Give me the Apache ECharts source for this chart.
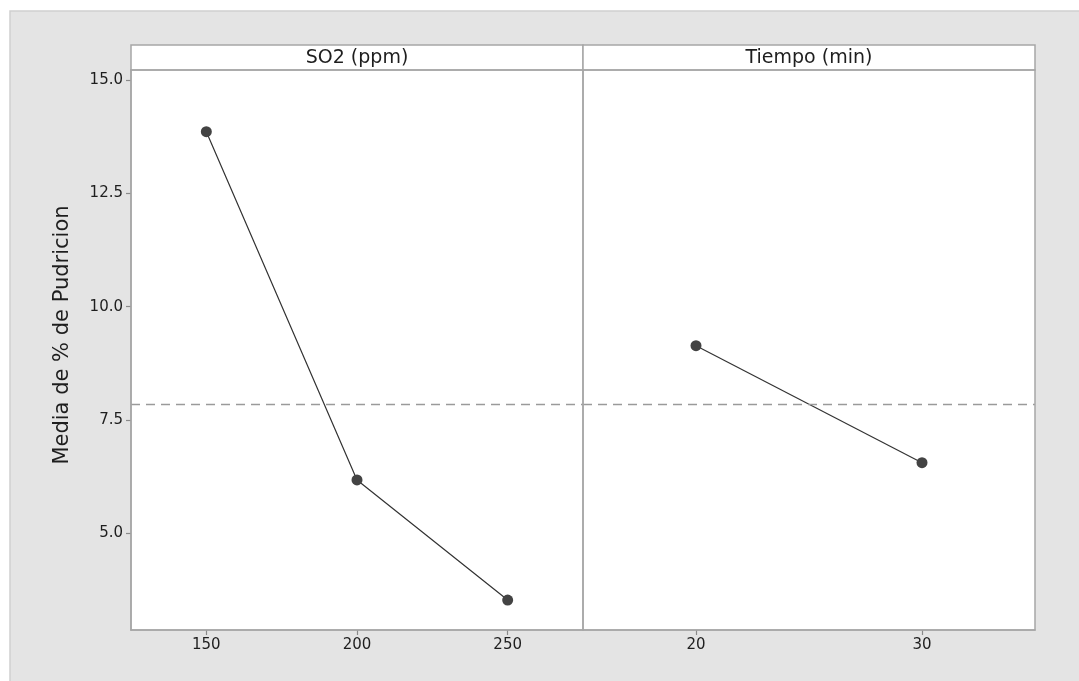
<!DOCTYPE html>
<html>
<head>
<meta charset="utf-8">
<script src="https://cdn.jsdelivr.net/npm/echarts@6/dist/echarts.min.js"></script>
<style>
html,body{margin:0;padding:0;background:#fff;}
#c{width:1079px;height:681px;}
</style>
</head>
<body>
<div id="c"></div>
<script>
const panelTitles = ['SO2 (ppm)', 'Tiempo (min)'];
const so2Levels = [150, 200, 250];
const so2Means = [13.86, 6.18, 3.53];
const timeLevels = [20, 30];
const timeMeans = [9.14, 6.56];
const grandMean = 7.85;
const yTicks = [5.0, 7.5, 10.0, 12.5, 15.0];
const yLabel = 'Media de % de Pudricion';

const chart = echarts.init(document.getElementById('c'), null, {renderer: 'canvas'});
const FONT = '"DejaVu Sans", "Noto Sans", sans-serif';
const axisLineStyle = {color: '#a6a6a6', width: 1.5};
const tickLabel = {color: '#1e1e1e', fontSize: 15, fontFamily: FONT, margin: 8};

const grids = [
  {left: 131, top: 70, width: 452, height: 560},
  {left: 583, top: 70, width: 452, height: 560}
];

function xAxis(i, min, max, levels) {
  return {
    type: 'value', gridIndex: i, min: min, max: max,
    axisLine: {show: true, onZero: false, lineStyle: axisLineStyle},
    axisTick: {show: true, length: 5, customValues: levels, lineStyle: {color: '#8a8a8a', width: 1.2}},
    axisLabel: Object.assign({}, tickLabel, {customValues: levels, formatter: function (v) { return String(v); }}),
    splitLine: {show: false}
  };
}

chart.setOption({
  backgroundColor: '#ffffff',
  animation: false,
  graphic: [
    {type: 'rect', shape: {x: 10, y: 11, width: 1075, height: 680}, style: {fill: '#e4e4e4', stroke: '#cfcfcf', lineWidth: 1.5}, z: -10},
    {type: 'rect', shape: {x: 131, y: 45, width: 452, height: 25}, style: {fill: '#ffffff', stroke: '#a6a6a6', lineWidth: 1.5}, z: 10},
    {type: 'rect', shape: {x: 583, y: 45, width: 452, height: 25}, style: {fill: '#ffffff', stroke: '#a6a6a6', lineWidth: 1.5}, z: 10},
    {type: 'rect', shape: {x: 131, y: 70, width: 904, height: 560}, style: {fill: '#ffffff', stroke: null}, z: -5},
    {type: 'rect', shape: {x: 131, y: 70, width: 452, height: 560}, style: {fill: 'none', stroke: '#a6a6a6', lineWidth: 1.5}, z: 10},
    {type: 'rect', shape: {x: 583, y: 70, width: 452, height: 560}, style: {fill: 'none', stroke: '#a6a6a6', lineWidth: 1.5}, z: 10},
    {type: 'text', x: 357, y: 58, style: {text: panelTitles[0], font: '19px ' + FONT, fill: '#1e1e1e', textAlign: 'center', textVerticalAlign: 'middle'}, z: 11},
    {type: 'text', x: 809, y: 58, style: {text: panelTitles[1], font: '19px ' + FONT, fill: '#1e1e1e', textAlign: 'center', textVerticalAlign: 'middle'}, z: 11},
    {type: 'text', x: 63, y: 335, rotation: Math.PI / 2, style: {text: yLabel, font: '21px ' + FONT, fill: '#1e1e1e', textAlign: 'center', textVerticalAlign: 'middle'}, z: 11}
  ],
  grid: grids,
  xAxis: [xAxis(0, 125, 275, so2Levels), xAxis(1, 15, 35, timeLevels)],
  yAxis: [
    {
      type: 'value', gridIndex: 0, min: 2.87, max: 15.22,
      axisLine: {show: true, lineStyle: axisLineStyle},
      axisTick: {show: true, length: 5, customValues: yTicks, lineStyle: {color: '#8a8a8a', width: 1.2}},
      axisLabel: Object.assign({}, tickLabel, {customValues: yTicks, formatter: function (v) { return v.toFixed(1); }}),
      splitLine: {show: false}
    },
    {
      type: 'value', gridIndex: 1, min: 2.87, max: 15.22,
      axisLine: {show: false}, axisTick: {show: false}, axisLabel: {show: false}, splitLine: {show: false}
    }
  ],
  series: [
    {
      type: 'line', xAxisIndex: 0, yAxisIndex: 0,
      data: so2Levels.map((x, k) => [x, so2Means[k]]),
      symbol: 'circle', symbolSize: 11,
      lineStyle: {color: '#333333', width: 1.2},
      itemStyle: {color: '#434343'},
      markLine: {
        silent: true, symbol: 'none', label: {show: false},
        lineStyle: {color: '#9a9a9a', type: [9, 6], width: 1.4},
        data: [{yAxis: grandMean}]
      }
    },
    {
      type: 'line', xAxisIndex: 1, yAxisIndex: 1,
      data: timeLevels.map((x, k) => [x, timeMeans[k]]),
      symbol: 'circle', symbolSize: 11,
      lineStyle: {color: '#333333', width: 1.2},
      itemStyle: {color: '#434343'},
      markLine: {
        silent: true, symbol: 'none', label: {show: false},
        lineStyle: {color: '#9a9a9a', type: [9, 6], width: 1.4},
        data: [{yAxis: grandMean}]
      }
    }
  ]
});
</script>
</body>
</html>
